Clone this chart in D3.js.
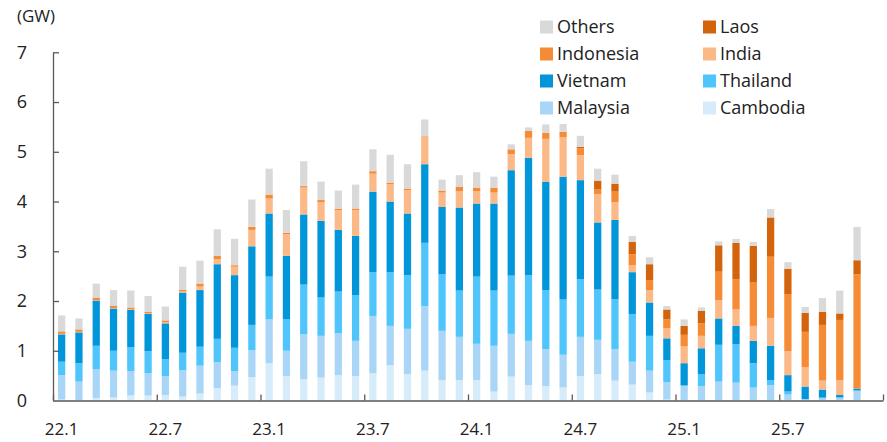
<!DOCTYPE html>
<html>
<head>
<meta charset="utf-8">
<script src="https://cdn.jsdelivr.net/npm/d3@7"></script>
<style>
  body { margin: 0; background: #fff; }
  svg text { font-family: "Open Sans", "Noto Sans", sans-serif; fill: #222; }
</style>
</head>
<body>
<svg id="chart"></svg>
<script>
const width = 887;
const height = 442;

const months = [
  "22.1","22.2","22.3","22.4","22.5","22.6","22.7","22.8","22.9","22.10","22.11","22.12",
  "23.1","23.2","23.3","23.4","23.5","23.6","23.7","23.8","23.9","23.10","23.11","23.12",
  "24.1","24.2","24.3","24.4","24.5","24.6","24.7","24.8","24.9","24.10","24.11","24.12",
  "25.1","25.2","25.3","25.4","25.5","25.6","25.7","25.8","25.9","25.10","25.11","25.12"
];
const xLabels = ["22.1", "22.7", "23.1", "23.7", "24.1", "24.7", "25.1", "25.7"];
const yTicks = [0, 1, 2, 3, 4, 5, 6, 7];

// GW, bottom to top
const cambodia = [0.02,0,0.05,0.06,0.10,0.10,0.11,0.08,0.14,0.25,0.30,0.47,
  0.75,0.49,0.43,0.46,0.51,0.49,0.55,0.71,0.53,0.60,0.41,0.41,
  0.41,0.18,0.48,0.31,0.29,0.26,0.49,0.53,0.40,0.32,0.16,0.02,
  0,0,0,0,0,0,0,0,0,0,0];
const malaysia = [0.49,0.38,0.58,0.54,0.49,0.45,0.38,0.53,0.56,0.52,0.29,0.54,
  0.88,0.51,0.90,0.84,0.84,0.71,1.15,0.79,0.91,1.30,0.99,0.87,
  0.73,0.92,0.86,0.89,0.74,0.66,0.79,0.69,0.63,0.46,0.44,0.35,
  0.29,0.29,0.38,0.36,0.26,0.31,0.12,0.02,0.04,0.06,0.20];
const thailand = [0.27,0.37,0.47,0.40,0.48,0.44,0.34,0.35,0.38,0.47,0.47,0.51,
  0.86,0.63,1.00,0.77,0.84,0.92,0.88,1.08,1.08,1.27,1.14,0.93,
  1.35,1.11,1.17,1.32,1.19,1.11,1.16,1.01,1.01,0.96,0.70,0.44,
  0.02,0.24,0.74,0.77,0.49,0.10,0.06,0.01,0.02,0,0];
const vietnam = [0.55,0.62,0.91,0.85,0.75,0.75,0.72,1.21,1.14,1.50,1.46,1.58,
  1.27,1.28,1.41,1.54,1.24,1.19,1.62,1.42,1.24,1.58,1.35,1.67,
  1.47,1.75,2.12,2.36,2.18,2.47,1.99,1.35,1.59,0.84,0.67,0.44,
  0.44,0.52,0.53,0.37,0.45,0.69,0.33,0.25,0.16,0.05,0.04];
const india = [0.01,0.01,0.01,0.01,0.01,0.01,0.02,0.02,0.07,0.10,0.17,0.33,
  0.30,0.43,0.54,0.38,0.40,0.52,0.36,0.35,0.47,0.54,0.29,0.33,
  0.25,0.22,0.32,0.40,0.86,0.79,0.50,0.57,0.36,0.14,0.25,0.20,
  0.34,0.25,0.37,0.33,0.30,0.56,0.48,0.39,0.18,0.30,0];
const indonesia = [0.05,0.05,0.05,0.04,0.04,0.03,0.04,0.04,0.06,0.07,0.03,0.06,
  0.08,0.03,0.03,0.04,0.02,0.03,0.05,0.03,0.03,0.02,0.04,0.09,
  0.07,0.10,0.10,0.14,0.12,0.11,0.14,0.09,0.21,0.22,0.20,0.18,
  0.23,0.25,0.57,0.61,0.87,1.23,1.15,0.71,1.12,1.21,2.30];
const laos = [0,0,0,0,0,0,0,0,0,0,0,0,
  0,0,0,0,0,0,0,0,0,0,0,0,
  0,0,0,0,0,0,0.03,0.18,0.16,0.25,0.32,0.20,
  0.18,0.25,0.53,0.73,0.74,0.79,0.51,0.38,0.26,0.13,0.28];
const others = [0.32,0.22,0.28,0.32,0.34,0.32,0.28,0.46,0.46,0.53,0.53,0.55,
  0.52,0.46,0.50,0.37,0.37,0.48,0.44,0.56,0.49,0.34,0.22,0.23,
  0.31,0.22,0.10,0.07,0.17,0.16,0.22,0.24,0.18,0.12,0.14,0.07,
  0.13,0.07,0.08,0.08,0.08,0.17,0.13,0.12,0.28,0.46,0.67];

const series = [
  { key: "Cambodia", values: cambodia, color: "#d7ecfb" },
  { key: "Malaysia", values: malaysia, color: "#a9d6f6" },
  { key: "Thailand", values: thailand, color: "#50c5fb" },
  { key: "Vietnam", values: vietnam, color: "#0096d9" },
  { key: "India", values: india, color: "#fbb988" },
  { key: "Indonesia", values: indonesia, color: "#f68b35" },
  { key: "Laos", values: laos, color: "#d4640c" },
  { key: "Others", values: others, color: "#d9d9d9" }
];

// rows for d3.stack
const rows = cambodia.map((_, i) => {
  const r = { month: months[i] };
  series.forEach(s => { r[s.key] = s.values[i]; });
  return r;
});

const svg = d3.select("#chart")
    .attr("width", width)
    .attr("height", height);

const x = d3.scaleBand()
    .domain(months)
    .range([53, 883])
    .paddingInner(0.58)
    .paddingOuter(0.29);

const xi = d3.scaleLinear()
    .domain([0, months.length])
    .range([53, 883]);

const y = d3.scaleLinear()
    .domain([0, 7])
    .range([400.5, 52.3]);

const stack = d3.stack().keys(series.map(s => s.key));
const layers = stack(rows);
const colorOf = d3.scaleOrdinal()
    .domain(series.map(s => s.key))
    .range(series.map(s => s.color));

svg.append("g")
  .selectAll("g")
  .data(layers)
  .enter().append("g")
    .attr("fill", d => colorOf(d.key))
  .selectAll("rect")
  .data(d => d)
  .enter().append("rect")
    .attr("x", d => x(d.data.month))
    .attr("width", x.bandwidth())
    .attr("y", d => y(d[1]))
    .attr("height", d => Math.max(0, y(d[0]) - y(d[1])));

// y axis
const yAxis = svg.append("g")
    .attr("transform", "translate(53,0)")
    .call(d3.axisLeft(y).tickValues(yTicks).tickFormat(d3.format("d"))
      .tickSize(-6).tickSizeOuter(0).tickPadding(26));
yAxis.selectAll("text").attr("font-size", 18);
yAxis.select(".domain").attr("stroke", "#595959").attr("stroke-width", 1.3);
yAxis.selectAll(".tick line").attr("stroke", "#595959").attr("stroke-width", 1.3);

// x axis line + boundary ticks
const xAxisTicks = svg.append("g")
    .attr("transform", "translate(0,400.5)")
    .call(d3.axisBottom(xi).tickValues([0, 6, 12, 18, 24, 30, 36, 42, 48])
      .tickSize(-6).tickSizeOuter(0).tickFormat(""));
xAxisTicks.select(".domain").attr("stroke", "#808080").attr("stroke-width", 2);
xAxisTicks.selectAll(".tick line").attr("stroke", "#595959").attr("stroke-width", 1.3);

// x labels
const xAxisLabels = svg.append("g")
    .attr("transform", "translate(0,400.5)")
    .call(d3.axisBottom(x).tickValues(xLabels).tickSize(0).tickPadding(22));
xAxisLabels.select(".domain").remove();
xAxisLabels.selectAll("text").attr("font-size", 17);

svg.append("text")
    .attr("x", 17)
    .attr("y", 22)
    .attr("font-size", 17)
    .text("(GW)");

// legend, two columns
const legendItems = [
  { key: "Others", col: 0, row: 0 },
  { key: "Indonesia", col: 0, row: 1 },
  { key: "Vietnam", col: 0, row: 2 },
  { key: "Malaysia", col: 0, row: 3 },
  { key: "Laos", col: 1, row: 0 },
  { key: "India", col: 1, row: 1 },
  { key: "Thailand", col: 1, row: 2 },
  { key: "Cambodia", col: 1, row: 3 }
];
const legend = svg.append("g")
  .selectAll("g")
  .data(legendItems)
  .enter().append("g")
    .attr("transform", d => `translate(${540 + d.col * 163},${27 + d.row * 27})`);
legend.append("rect")
    .attr("x", 0)
    .attr("y", -6.5)
    .attr("width", 13)
    .attr("height", 13)
    .attr("fill", d => colorOf(d.key));
legend.append("text")
    .attr("x", 17)
    .attr("dy", "0.35em")
    .attr("font-size", 18)
    .text(d => d.key);
</script>
</body>
</html>
